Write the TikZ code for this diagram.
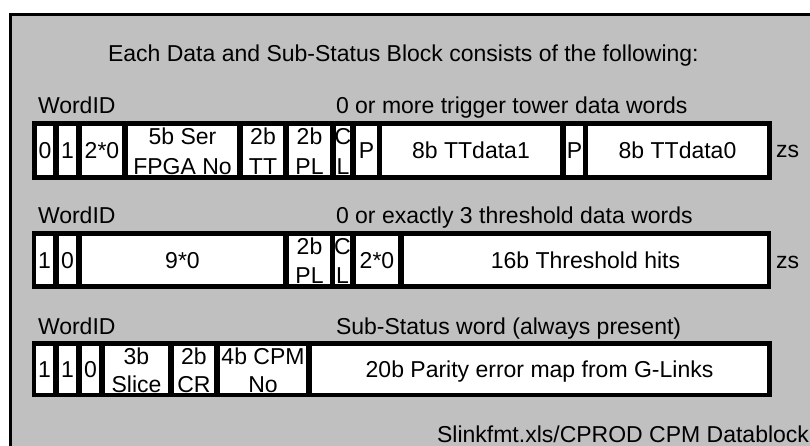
\documentclass[tikz,border=0pt]{standalone}
\usepackage{fontspec}
\setmainfont{Liberation Sans}
\usetikzlibrary{calc}
\definecolor{panelgrey}{RGB}{192,192,192}
\newcommand\bitcell[6]{%
  \node[cellbox, minimum width={(#3-#2)*1pt}, minimum height={(#5-#4)*1pt}] (#1) at (#2,#4) {#6};}
\newcommand\twoline[3]{%
  \node[txt, anchor=base] (#1a) at ($(#1.north)+(0,18.5)$) {#2};
  \node[txt, anchor=base] (#1b) at ($(#1.south)+(0,-0.5)$) {#3};}
\begin{document}
\begin{tikzpicture}[x=1pt,y=-1pt,
  txt/.style={inner sep=0pt, outer sep=0pt, font=\fontsize{23}{27}\selectfont, text=black},
  rowbar/.style={draw=none, fill=black, inner sep=0pt, outer sep=0pt, anchor=north west},
  cellbox/.style={fill=white, draw=none, inner sep=0pt, outer sep=0pt, anchor=north west,
    font=\fontsize{23}{27}\selectfont, text height=16.5pt, text depth=0pt},
]
\useasboundingbox (0,0) rectangle (810,446);
\fill[white] (0,0) rectangle (810,446);
\begin{scope}
  \clip (0,0) rectangle (810,446);
  \draw[line width=3pt, fill=panelgrey] (10.5,14.5) rectangle (830,470);
\end{scope}

% title and source
\node[txt, anchor=base west] (title) at (108,62) {Each Data and Sub-Status Block consists of the following:};
\node[txt, anchor=base east] (src) at (809,442) {Slinkfmt.xls/CPROD CPM Datablock};

% ---------- word 1 ----------
\node[txt, anchor=base west] (id1) at (38,114) {WordID};
\node[txt, anchor=base west] (desc1) at (336,114) {0 or more trigger tower data words};
\node[rowbar, minimum width=740pt, minimum height=59pt] (word1) at (32,121) {};
\bitcell{a1}{37}{53}{126}{175}{0}
\bitcell{a2}{59}{76}{126}{175}{1}
\bitcell{a3}{82}{122}{126}{175}{2*0}
\bitcell{a4}{128}{237}{126}{175}{}
\bitcell{a5}{243}{283}{126}{175}{}
\bitcell{a6}{289}{330}{126}{175}{}
\bitcell{a7}{336}{350}{126}{175}{}
\bitcell{a8}{356}{377}{126}{175}{P}
\bitcell{a9}{382}{560}{126}{175}{8b TTdata1}
\bitcell{a10}{566}{583}{126}{175}{P}
\bitcell{a11}{588}{767}{126}{175}{8b TTdata0}
\twoline{a4}{5b Ser}{FPGA No}
\twoline{a5}{2b}{TT}
\twoline{a6}{2b}{PL}
\twoline{a7}{C}{L}
\node[txt, anchor=base west] (zs1) at (776,158) {zs};

% ---------- word 2 ----------
\node[txt, anchor=base west] (id2) at (38,224) {WordID};
\node[txt, anchor=base west] (desc2) at (336,224) {0 or exactly 3 threshold data words};
\node[rowbar, minimum width=739pt, minimum height=58pt] (word2) at (32,231) {};
\bitcell{b1}{36}{53}{236}{284}{1}
\bitcell{b2}{59}{76}{236}{284}{0}
\bitcell{b3}{82}{283}{236}{284}{9*0}
\bitcell{b4}{289}{330}{236}{284}{}
\bitcell{b5}{335}{350}{236}{284}{}
\bitcell{b6}{356}{398}{236}{284}{2*0}
\bitcell{b7}{404}{767}{236}{284}{16b Threshold hits}
\twoline{b4}{2b}{PL}
\twoline{b5}{C}{L}
\node[txt, anchor=base west] (zs2) at (776,268) {zs};

% ---------- word 3 ----------
\node[txt, anchor=base west] (id3) at (38,334) {WordID};
\node[txt, anchor=base west] (desc3) at (336,334) {Sub-Status word (always present)};
\node[rowbar, minimum width=740pt, minimum height=56pt] (word3) at (32,341) {};
\bitcell{c1}{36}{53}{346}{393}{1}
\bitcell{c2}{59}{76}{346}{393}{1}
\bitcell{c3}{82}{99}{346}{393}{0}
\bitcell{c4}{105}{168}{346}{393}{}
\bitcell{c5}{174}{214}{346}{393}{}
\bitcell{c6}{220}{306}{346}{393}{}
\bitcell{c7}{312}{767}{346}{393}{20b Parity error map from G-Links}
\twoline{c4}{3b}{Slice}
\twoline{c5}{2b}{CR}
\twoline{c6}{4b CPM}{No}
\end{tikzpicture}
\end{document}
